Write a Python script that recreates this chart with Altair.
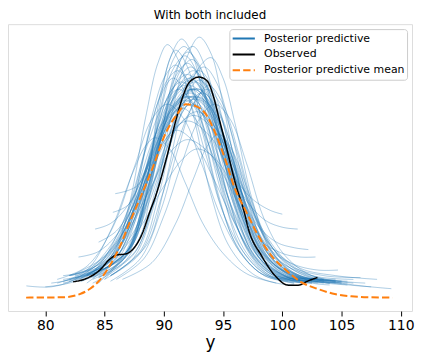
import altair as alt
import pandas as pd

title_text = "With both included"
x_title = "y"
series_names = ["Posterior predictive", "Observed", "Posterior predictive mean"]
series_colors = ["#1f77b4", "#000000", "#ff7f0e"]
series_dashes = [[1, 0], [1, 0], [7.4, 3.2]]

x_ticks = [80, 85, 90, 95, 100, 105, 110]
x_domain = [76.85, 110.95]
y_domain = [-0.007, 0.147]

# Observed KDE (black)
obs_x = [82.35, 83.47, 84.59, 85.42, 85.98, 86.82, 87.38, 88.21, 88.78, 89.34,
         90.18, 91.01, 91.57, 92.13, 92.97, 93.66, 94.22, 94.64, 95.21, 96.04,
         96.74, 97.16, 98.27, 99.40, 100.51, 101.35, 102.19, 102.97]
obs_d = [0.0087, 0.0105, 0.0149, 0.0207, 0.0230, 0.0237, 0.0261, 0.0350, 0.0456, 0.0553,
         0.0739, 0.0952, 0.1075, 0.1156, 0.1186, 0.1165, 0.1075, 0.0970, 0.0828, 0.0616,
         0.0473, 0.0367, 0.0225, 0.0119, 0.0069, 0.0069, 0.0092, 0.0110]

# Posterior predictive mean KDE (orange dashed)
mean_x = [78.38, 81.51, 82.91, 83.75, 84.59, 85.42, 86.26, 87.10, 87.94, 89.05,
          90.18, 91.15, 91.85, 92.69, 93.53, 94.37, 95.21, 96.04, 96.88, 98.00,
          99.11, 100.23, 101.63, 103.03, 104.43, 105.82, 107.22, 109.31]
mean_d = [0.0002, 0.0004, 0.0021, 0.0048, 0.0096, 0.0172, 0.0271, 0.0403, 0.0527, 0.0697,
          0.0888, 0.0988, 0.1040, 0.1030, 0.0988, 0.0882, 0.0739, 0.0580, 0.0473, 0.0331,
          0.0225, 0.0154, 0.0084, 0.0048, 0.0021, 0.0009, 0.0004, 0.0002]

# Posterior predictive KDEs (thin blue), each a list of [x, density]
pp_curves = [
    [[84.5, 0.011], [86.5, 0.020], [88.0, 0.045], [89.5, 0.098], [90.5, 0.128], [91.5, 0.139], [92.5, 0.129], [93.5, 0.101], [95.0, 0.056], [96.5, 0.027], [98.5, 0.013], [100.5, 0.009], [102.0, 0.008]],
    [[85.5, 0.012], [87.5, 0.022], [89.0, 0.046], [90.5, 0.094], [92.0, 0.130], [93.0, 0.140], [94.0, 0.131], [95.0, 0.104], [96.5, 0.058], [98.0, 0.028], [100.0, 0.013], [102.5, 0.008], [104.0, 0.007]],
    [[83.0, 0.010], [85.5, 0.020], [87.0, 0.048], [88.5, 0.098], [89.5, 0.126], [90.3, 0.136], [91.2, 0.128], [92.5, 0.098], [94.0, 0.055], [95.5, 0.028], [97.5, 0.013], [99.5, 0.008], [101.0, 0.007]],
    [[86.0, 0.020], [87.5, 0.030], [89.0, 0.063], [90.5, 0.108], [91.7, 0.131], [92.5, 0.135], [93.5, 0.124], [94.8, 0.092], [96.3, 0.050], [98.0, 0.022], [100.0, 0.011], [102.0, 0.009]],
    [[83.5, 0.012], [86.5, 0.022], [88.5, 0.052], [90.0, 0.095], [91.0, 0.122], [92.0, 0.132], [93.0, 0.125], [94.5, 0.090], [96.0, 0.050], [98.0, 0.022], [100.5, 0.011], [103.5, 0.008]],
    [[83.0, 0.009], [86.0, 0.020], [88.0, 0.050], [89.8, 0.104], [90.8, 0.128], [91.7, 0.135], [92.7, 0.127], [94.0, 0.094], [95.5, 0.053], [97.0, 0.027], [99.0, 0.013], [101.5, 0.010]],
    [[85.5, 0.012], [88.5, 0.028], [90.0, 0.058], [91.5, 0.100], [93.0, 0.124], [94.0, 0.129], [95.0, 0.118], [96.0, 0.094], [97.5, 0.052], [99.0, 0.026], [101.0, 0.013], [103.5, 0.009], [105.0, 0.008]],
    [[85.0, 0.015], [87.5, 0.030], [88.8, 0.070], [89.8, 0.112], [91.0, 0.133], [92.0, 0.124], [93.2, 0.094], [94.5, 0.058], [96.0, 0.030], [98.0, 0.014], [100.0, 0.010]],
    [[82.5, 0.010], [85.5, 0.018], [87.5, 0.042], [89.0, 0.080], [90.5, 0.110], [92.0, 0.120], [93.5, 0.108], [95.0, 0.078], [96.5, 0.045], [98.5, 0.020], [100.5, 0.011], [103.0, 0.008]],
    [[81.5, 0.010], [84.5, 0.015], [87.0, 0.035], [89.0, 0.072], [91.0, 0.106], [92.7, 0.116], [94.2, 0.103], [95.7, 0.072], [97.2, 0.040], [99.0, 0.020], [101.5, 0.011], [104.5, 0.009]],
    [[81.5, 0.008], [84.0, 0.014], [86.5, 0.040], [88.5, 0.080], [90.0, 0.104], [91.3, 0.112], [92.8, 0.100], [94.5, 0.068], [96.0, 0.040], [98.0, 0.018], [100.0, 0.010], [102.5, 0.008]],
    [[84.0, 0.008], [86.5, 0.018], [88.5, 0.040], [90.2, 0.075], [91.8, 0.102], [93.3, 0.110], [94.8, 0.098], [96.2, 0.070], [97.8, 0.038], [99.5, 0.019], [102.0, 0.010], [105.5, 0.007]],
    [[84.0, 0.013], [86.8, 0.023], [88.3, 0.050], [89.8, 0.090], [91.0, 0.115], [92.3, 0.124], [93.6, 0.112], [95.0, 0.080], [96.5, 0.044], [98.3, 0.020], [100.5, 0.010], [102.5, 0.008]],
    [[80.5, 0.008], [83.0, 0.012], [85.5, 0.028], [87.5, 0.055], [89.5, 0.090], [91.8, 0.106], [93.8, 0.094], [95.5, 0.066], [97.3, 0.036], [99.3, 0.018], [102.0, 0.010], [105.5, 0.008]],
    [[82.5, 0.012], [85.0, 0.017], [87.5, 0.036], [89.5, 0.068], [91.2, 0.092], [92.8, 0.100], [94.5, 0.090], [96.0, 0.066], [97.5, 0.040], [99.5, 0.021], [102.5, 0.012], [106.0, 0.010]],
    [[83.5, 0.012], [85.5, 0.022], [87.2, 0.050], [88.5, 0.082], [89.7, 0.108], [90.8, 0.118], [92.0, 0.108], [93.5, 0.078], [95.0, 0.046], [96.8, 0.024], [98.8, 0.012], [101.0, 0.008]],
    [[85.5, 0.009], [88.0, 0.021], [89.8, 0.048], [91.2, 0.080], [92.5, 0.104], [93.8, 0.114], [95.0, 0.104], [96.3, 0.078], [97.8, 0.044], [99.5, 0.022], [101.5, 0.012], [104.5, 0.009]],
    [[84.0, 0.012], [86.0, 0.025], [88.0, 0.052], [90.0, 0.084], [92.0, 0.095], [94.0, 0.086], [95.8, 0.066], [97.5, 0.053], [99.0, 0.047], [100.0, 0.045]],
    [[85.9, 0.056], [87.7, 0.060], [89.0, 0.075], [90.3, 0.094], [91.5, 0.102], [92.8, 0.095], [94.3, 0.074], [95.8, 0.048], [97.5, 0.026], [99.5, 0.013], [102.0, 0.009]],
    [[84.2, 0.037], [85.5, 0.040], [87.0, 0.050], [88.7, 0.072], [90.5, 0.098], [92.0, 0.108], [93.5, 0.100], [95.0, 0.074], [96.7, 0.042], [98.5, 0.022], [100.8, 0.011], [103.0, 0.009]],
    [[85.7, 0.046], [87.0, 0.050], [88.5, 0.070], [90.0, 0.096], [91.5, 0.114], [92.5, 0.117], [93.7, 0.106], [95.0, 0.080], [96.5, 0.046], [98.2, 0.022], [100.0, 0.012], [102.5, 0.009]],
    [[82.8, 0.022], [84.5, 0.025], [86.5, 0.038], [88.5, 0.068], [90.5, 0.100], [92.3, 0.112], [94.0, 0.100], [95.5, 0.072], [97.0, 0.042], [99.0, 0.020], [101.0, 0.011], [103.5, 0.009]],
    [[82.1, 0.012], [84.0, 0.016], [86.3, 0.032], [88.5, 0.064], [90.5, 0.094], [92.5, 0.104], [94.5, 0.090], [96.2, 0.062], [97.8, 0.040], [99.5, 0.030], [101.0, 0.027], [102.2, 0.026]],
    [[83.5, 0.008], [86.0, 0.022], [88.0, 0.048], [90.0, 0.086], [91.8, 0.108], [93.3, 0.104], [95.0, 0.080], [96.7, 0.055], [98.5, 0.042], [100.0, 0.038], [101.3, 0.037]],
    [[84.5, 0.008], [86.7, 0.024], [88.5, 0.054], [90.2, 0.090], [91.7, 0.110], [93.0, 0.112], [94.5, 0.095], [96.2, 0.060], [98.0, 0.032], [100.0, 0.024], [101.5, 0.022], [102.8, 0.022]],
    [[85.0, 0.010], [87.0, 0.026], [89.0, 0.058], [90.8, 0.094], [92.3, 0.112], [93.8, 0.106], [95.5, 0.078], [97.2, 0.046], [99.0, 0.026], [101.0, 0.018], [103.0, 0.015], [104.7, 0.015]],
    [[83.0, 0.009], [85.5, 0.017], [87.5, 0.042], [89.5, 0.080], [91.3, 0.106], [93.0, 0.112], [94.7, 0.098], [96.5, 0.066], [98.3, 0.036], [100.5, 0.018], [103.5, 0.012], [106.6, 0.011]],
    [[84.0, 0.010], [86.5, 0.020], [88.5, 0.050], [90.5, 0.088], [92.2, 0.108], [93.8, 0.104], [95.5, 0.080], [97.2, 0.050], [99.0, 0.028], [101.5, 0.016], [104.5, 0.012], [108.0, 0.010]],
    [[80.0, 0.006], [82.5, 0.009], [85.0, 0.020], [87.5, 0.048], [89.5, 0.082], [91.5, 0.104], [93.2, 0.106], [95.0, 0.088], [96.8, 0.058], [98.8, 0.030], [101.5, 0.014], [105.0, 0.008], [109.2, 0.005]],
    [[78.4, 0.0065], [80.5, 0.006], [82.5, 0.010], [85.0, 0.022], [87.3, 0.048], [89.3, 0.082], [91.2, 0.106], [92.6, 0.112], [94.2, 0.100], [95.8, 0.072], [97.5, 0.040], [99.5, 0.018], [102.0, 0.010]],
    [[81.0, 0.010], [83.5, 0.017], [85.7, 0.038], [87.5, 0.070], [89.0, 0.096], [90.3, 0.104], [91.7, 0.096], [93.2, 0.072], [94.8, 0.044], [96.5, 0.024], [98.5, 0.012], [101.0, 0.008]],
    [[86.0, 0.010], [88.3, 0.021], [90.0, 0.044], [91.5, 0.072], [93.0, 0.096], [94.3, 0.104], [95.6, 0.096], [97.0, 0.072], [98.5, 0.042], [100.2, 0.023], [102.5, 0.012], [106.0, 0.008]],
    [[81.5, 0.012], [83.5, 0.015], [86.0, 0.030], [88.2, 0.056], [90.2, 0.084], [92.5, 0.098], [94.7, 0.086], [96.6, 0.060], [98.4, 0.036], [100.5, 0.019], [103.0, 0.011], [107.0, 0.008]],
    [[82.0, 0.012], [84.0, 0.016], [86.5, 0.032], [88.8, 0.058], [90.5, 0.078], [92.0, 0.085], [93.8, 0.078], [95.7, 0.058], [97.5, 0.036], [99.5, 0.019], [102.0, 0.011], [104.5, 0.009]],
    [[81.0, 0.008], [83.5, 0.015], [85.5, 0.036], [87.3, 0.066], [88.5, 0.082], [89.3, 0.086], [90.5, 0.080], [91.8, 0.062], [93.3, 0.040], [95.0, 0.024], [97.0, 0.013], [99.5, 0.008]],
    [[86.5, 0.010], [89.0, 0.019], [91.0, 0.040], [92.5, 0.064], [93.7, 0.082], [94.6, 0.088], [95.7, 0.080], [97.2, 0.056], [98.7, 0.032], [100.7, 0.016], [103.5, 0.009], [107.5, 0.006]],
    [[83.5, 0.014], [85.5, 0.020], [87.8, 0.036], [90.0, 0.060], [91.5, 0.074], [92.8, 0.080], [94.3, 0.075], [96.0, 0.058], [98.0, 0.034], [100.0, 0.019], [102.5, 0.011], [105.5, 0.009]],
    [[84.5, 0.030], [86.0, 0.036], [87.8, 0.054], [89.5, 0.078], [91.0, 0.090], [92.5, 0.084], [94.2, 0.064], [96.0, 0.040], [97.8, 0.021], [99.8, 0.011], [102.0, 0.008]],
    [[84.0, 0.012], [87.0, 0.026], [88.7, 0.060], [90.2, 0.096], [91.2, 0.113], [92.2, 0.118], [93.3, 0.110], [94.8, 0.080], [96.3, 0.046], [98.0, 0.022], [100.0, 0.012], [102.5, 0.009]],
    [[85.0, 0.012], [87.7, 0.026], [89.3, 0.058], [90.8, 0.094], [92.0, 0.116], [93.0, 0.122], [94.1, 0.113], [95.5, 0.082], [97.0, 0.046], [98.8, 0.022], [100.8, 0.012], [104.0, 0.008]],
    [[82.5, 0.011], [85.5, 0.020], [87.5, 0.048], [89.2, 0.086], [90.5, 0.106], [91.7, 0.114], [93.0, 0.104], [94.5, 0.074], [96.0, 0.044], [97.8, 0.022], [100.0, 0.011], [102.0, 0.009]],
    [[82.0, 0.010], [85.0, 0.018], [87.3, 0.044], [89.3, 0.078], [91.0, 0.100], [92.5, 0.108], [94.0, 0.098], [95.7, 0.070], [97.4, 0.040], [99.3, 0.020], [101.8, 0.011], [105.0, 0.008]],
    [[84.5, 0.012], [87.0, 0.024], [88.6, 0.058], [90.0, 0.098], [91.0, 0.119], [92.0, 0.126], [93.0, 0.118], [94.3, 0.090], [95.8, 0.052], [97.5, 0.024], [99.5, 0.012], [101.5, 0.009]],
    [[83.5, 0.012], [86.5, 0.022], [88.3, 0.050], [89.9, 0.088], [91.3, 0.112], [92.6, 0.119], [93.9, 0.110], [95.3, 0.080], [96.8, 0.046], [98.5, 0.022], [100.5, 0.012], [103.5, 0.010]],
    [[83.0, 0.011], [85.8, 0.022], [87.5, 0.054], [89.0, 0.094], [90.2, 0.116], [91.2, 0.122], [92.3, 0.113], [93.7, 0.084], [95.2, 0.050], [97.0, 0.024], [99.0, 0.012], [101.5, 0.009]],
    [[85.5, 0.012], [88.0, 0.025], [89.6, 0.056], [91.0, 0.094], [92.3, 0.117], [93.4, 0.124], [94.5, 0.115], [95.8, 0.086], [97.2, 0.050], [98.8, 0.024], [100.8, 0.012], [103.5, 0.010]],
    [[82.0, 0.009], [85.5, 0.020], [87.7, 0.048], [89.5, 0.084], [91.0, 0.104], [92.3, 0.110], [93.7, 0.102], [95.2, 0.076], [96.8, 0.045], [98.6, 0.022], [100.8, 0.012], [104.0, 0.008]],
    [[84.5, 0.014], [87.0, 0.026], [88.5, 0.062], [89.8, 0.102], [90.8, 0.123], [91.8, 0.130], [92.8, 0.121], [94.0, 0.092], [95.5, 0.052], [97.2, 0.024], [99.0, 0.012], [101.0, 0.010]],
    [[84.0, 0.013], [86.8, 0.024], [88.8, 0.052], [90.5, 0.084], [91.8, 0.102], [92.9, 0.108], [94.2, 0.100], [95.7, 0.076], [97.3, 0.044], [99.0, 0.024], [101.3, 0.012], [105.0, 0.009]],
    [[81.5, 0.009], [84.8, 0.017], [87.2, 0.044], [89.0, 0.080], [90.7, 0.106], [92.2, 0.114], [93.6, 0.106], [95.1, 0.078], [96.6, 0.046], [98.4, 0.022], [100.5, 0.011], [103.5, 0.009]],
    [[83.5, 0.013], [86.2, 0.026], [88.0, 0.058], [89.5, 0.092], [90.5, 0.110], [91.5, 0.116], [92.7, 0.108], [94.2, 0.078], [95.8, 0.044], [97.6, 0.022], [99.6, 0.011], [102.0, 0.009]],
    [[84.5, 0.011], [87.4, 0.023], [89.2, 0.052], [90.8, 0.088], [92.0, 0.110], [93.0, 0.117], [94.2, 0.108], [95.6, 0.080], [97.1, 0.046], [98.8, 0.022], [101.0, 0.011], [104.5, 0.008]],
    [[85.5, 0.015], [87.8, 0.030], [89.2, 0.068], [90.5, 0.106], [91.5, 0.123], [92.4, 0.128], [93.4, 0.119], [94.6, 0.090], [96.0, 0.050], [97.5, 0.024], [99.5, 0.012], [101.5, 0.010]],
    [[82.0, 0.012], [85.0, 0.020], [87.2, 0.044], [89.0, 0.076], [90.6, 0.098], [92.0, 0.104], [93.5, 0.097], [95.0, 0.074], [96.7, 0.044], [98.5, 0.023], [101.0, 0.012], [104.5, 0.010]],
    [[84.0, 0.014], [86.5, 0.030], [87.9, 0.064], [89.1, 0.100], [90.1, 0.119], [91.0, 0.125], [92.0, 0.117], [93.3, 0.088], [94.8, 0.050], [96.5, 0.024], [98.5, 0.012], [100.5, 0.009]],
    [[85.0, 0.010], [88.0, 0.024], [89.8, 0.054], [91.3, 0.086], [92.5, 0.104], [93.6, 0.112], [94.8, 0.104], [96.2, 0.078], [97.7, 0.044], [99.4, 0.022], [101.5, 0.012], [105.0, 0.009]],
    [[84.0, 0.011], [86.8, 0.022], [88.5, 0.054], [90.0, 0.092], [91.4, 0.115], [92.5, 0.122], [93.6, 0.114], [95.0, 0.084], [96.5, 0.048], [98.2, 0.022], [100.2, 0.012], [102.5, 0.010]],
    [[82.5, 0.013], [85.3, 0.024], [87.4, 0.050], [89.2, 0.082], [90.5, 0.101], [91.7, 0.108], [93.1, 0.100], [94.7, 0.074], [96.3, 0.044], [98.2, 0.022], [100.3, 0.012], [103.0, 0.010]],
]

rows = []
for i, curve in enumerate(pp_curves):
    for xv, dv in curve:
        rows.append({"x": xv, "d": dv, "curve": f"pp{i}", "series": series_names[0]})
for xv, dv in zip(obs_x, obs_d):
    rows.append({"x": xv, "d": dv, "curve": "obs", "series": series_names[1]})
for xv, dv in zip(mean_x, mean_d):
    rows.append({"x": xv, "d": dv, "curve": "mean", "series": series_names[2]})
df = pd.DataFrame(rows)

font = "DejaVu Sans"

legend = alt.Legend(
    title=None, orient="top-right", offset=5, symbolType="stroke",
    symbolSize=500, symbolStrokeWidth=2, symbolOpacity=1,
    labelFontSize=11, labelFont=font, labelColor="black", labelOffset=8,
    fillColor="white", strokeColor="#cccccc", padding=2, cornerRadius=3,
    rowPadding=1, clipHeight=15,
)

x_enc = alt.X("x:Q", scale=alt.Scale(domain=x_domain, nice=False, zero=False),
              axis=alt.Axis(values=x_ticks, title=x_title, grid=False, domain=False,
                            tickColor="black", tickSize=5, tickWidth=1,
                            labelFontSize=14, labelFont=font, labelColor="black",
                            labelPadding=3, titleFontSize=17, titleFont=font,
                            titleFontWeight="normal", titleColor="black", titlePadding=2))
y_enc = alt.Y("d:Q", scale=alt.Scale(domain=y_domain, nice=False, zero=False), axis=None)
color_enc = alt.Color("series:N", scale=alt.Scale(domain=series_names, range=series_colors), legend=legend)
dash_enc = alt.StrokeDash("series:N", scale=alt.Scale(domain=series_names, range=series_dashes), legend=legend)

base = alt.Chart(df)
pp_layer = base.transform_filter(alt.datum.series == series_names[0]).mark_line(
    strokeWidth=0.9, opacity=0.42, interpolate="catmull-rom"
).encode(x=x_enc, y=y_enc, color=color_enc, strokeDash=dash_enc, detail="curve:N")
obs_layer = base.transform_filter(alt.datum.series == series_names[1]).mark_line(
    strokeWidth=1.5, interpolate="monotone"
).encode(x=x_enc, y=y_enc, color=color_enc, strokeDash=dash_enc)
mean_layer = base.transform_filter(alt.datum.series == series_names[2]).mark_line(
    strokeWidth=2, interpolate="monotone"
).encode(x=x_enc, y=y_enc, color=color_enc, strokeDash=dash_enc)

chart = alt.layer(pp_layer, obs_layer, mean_layer).properties(
    width=407, height=289,
    title=alt.TitleParams(title_text, fontSize=12, fontWeight="normal", font=font,
                          color="black", offset=2),
    padding={"left": 0, "top": 0, "right": 0, "bottom": 0},
).configure_view(stroke="black", strokeWidth=1).configure(background="white")

chart.save("out.html", embed_options={"renderer": "svg", "actions": False})
